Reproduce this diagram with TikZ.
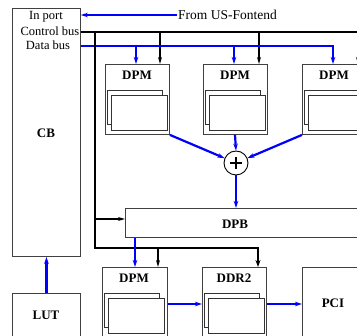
\documentclass[tikz,border=0pt]{standalone}
\usepackage{fontspec}
\setmainfont{Liberation Serif}
\usetikzlibrary{arrows.meta,calc}
\begin{document}
\begin{tikzpicture}[x=1pt,y=-1pt,
 box/.style={draw=black!75, line width=0.9pt, inner sep=0pt, anchor=north west},
 inner/.style={draw=black!80, line width=0.8pt},
 lab/.style={font=\bfseries\fontsize{13}{13}\selectfont, inner sep=0pt},
 txt/.style={font=\fontsize{12.5}{13}\selectfont, inner sep=0pt},
 bl/.style={draw={rgb,255:red,0;green,0;blue,255}, line width=2.2pt, -{Stealth[length=7pt,width=4.5pt]}},
 blline/.style={draw={rgb,255:red,0;green,0;blue,255}, line width=2.2pt},
 bk/.style={draw=black, line width=1.5pt, -{Stealth[length=7pt,width=4pt]}},
 bus/.style={draw=black, line width=2.6pt},
]
\useasboundingbox (0,0) rectangle (357,336);
\clip (0,0) rectangle (357,336);

% boxes
\node[box, minimum width=68pt, minimum height=248pt] (cb) at (12,8) {};
\node[box, minimum width=68pt, minimum height=70pt] (lut) at (12,293) {};
\node[box, minimum width=64pt, minimum height=70pt] (dpm1) at (105,64) {};
\node[box, minimum width=64pt, minimum height=70pt] (dpm2) at (203,64) {};
\node[box, minimum width=64pt, minimum height=70pt] (dpm3) at (302,64) {};
\node[box, minimum width=260pt, minimum height=29pt] (dpb) at (125,208) {};
\node[box, minimum width=65pt, minimum height=80pt] (dpm4) at (102,267) {};
\node[box, minimum width=64pt, minimum height=80pt] (ddr) at (202,267) {};
\node[box, minimum width=80pt, minimum height=80pt] (pci) at (302,267) {};

% inner stacked rectangles
\foreach \n in {dpm1,dpm2,dpm3,dpm4,ddr}{
  \draw[inner] ($(\n.north west)+(2,26)$) rectangle +(55,34);
  \draw[inner, fill=white] ($(\n.north west)+(6,31)$) rectangle +(56,35);
}

% labels
\node[txt] (inport) at (46,17) {In port};
\node[txt] (ctrl) at (50,31) {Control bus};
\node[txt] (data) at (48,45) {Data bus};
\node[lab] (cbl) at (46,133) {CB};
\node[lab] (lutl) at (46,315) {LUT};
\node[lab] (d1l) at (137,75) {DPM};
\node[lab] (d2l) at (235,75) {DPM};
\node[lab] (d3l) at (334,75) {DPM};
\node[lab] (dpbl) at (235,224) {DPB};
\node[lab] (d4l) at (134,278) {DPM};
\node[lab] (ddrl) at (234,278) {DDR2};
\node[lab] (pcil) at (333,303) {PCI};
\node[font=\fontsize{13.5}{14}\selectfont, inner sep=1.5pt, anchor=west] (fus) at (176.5,15) {From US-Fontend};

% sum node
\node[draw, circle, line width=0.9pt, minimum size=24pt, inner sep=0pt] (sum) at (236,163) {};
\draw[line width=1.4pt] ([xshift=-6pt]sum.center) -- ([xshift=6pt]sum.center);
\draw[line width=1.4pt] ([yshift=-6pt]sum.center) -- ([yshift=6pt]sum.center);

% coordinates
\coordinate (cy) at (0,32);
\coordinate (dy) at (0,46);
\coordinate (ry) at (0,304);
\coordinate (cend) at (370,32);
\coordinate (vx) at (95,0);
\coordinate (hy) at (0,248);
\coordinate (dpby) at (0,219);

% From US-Fontend
\draw[bl] (fus.west) -- (cb.east |- fus.west);

% control bus
\draw[bus] (cb.east |- cy) -- (cend);
\draw[bk] (160,32) -- (160,64 |- dpm1.north);
\draw[bk] (259,32) -- (259,64 |- dpm2.north);
\draw[bk] (358,32) -- (358,64 |- dpm3.north);

% data bus
\draw[blline] (cb.east |- dy) -- (333,46);
\draw[bl] (333,45) -- (333,64 |- dpm3.north);
\draw[bl] (136,46) -- (136,64 |- dpm1.north);
\draw[bl] (234,46) -- (234,64 |- dpm2.north);

% vertical bus
\draw[bus, -{Stealth[length=7pt,width=5pt]}] (vx |- cy) -- (vx |- hy) -- (258,248) -- (258,248 |- ddr.north);
\draw[bk] (vx |- dpby) -- (dpb.west |- dpby);
\draw[bk] (158,248) -- (158,248 |- dpm4.north);

% to sum
\draw[bl] (dpm1.south east) -- (sum);
\draw[bl] (235,134 |- dpm2.south) -- (sum.north);
\draw[bl] (dpm3.south west) -- (sum);
\draw[bl] (sum.south) -- (sum.south |- dpb.north);

% DPB -> DPM
\draw[bl] (135,237 |- dpb.south) -- (135,237 |- dpm4.north);

% LUT -> CB
\draw[bl] (lut.north) -- (cb.south);

% bottom chain
\draw[bl] (dpm4.east |- ry) -- (ddr.west |- ry);
\draw[bl] (ddr.east |- ry) -- (pci.west |- ry);
\end{tikzpicture}
\end{document}
